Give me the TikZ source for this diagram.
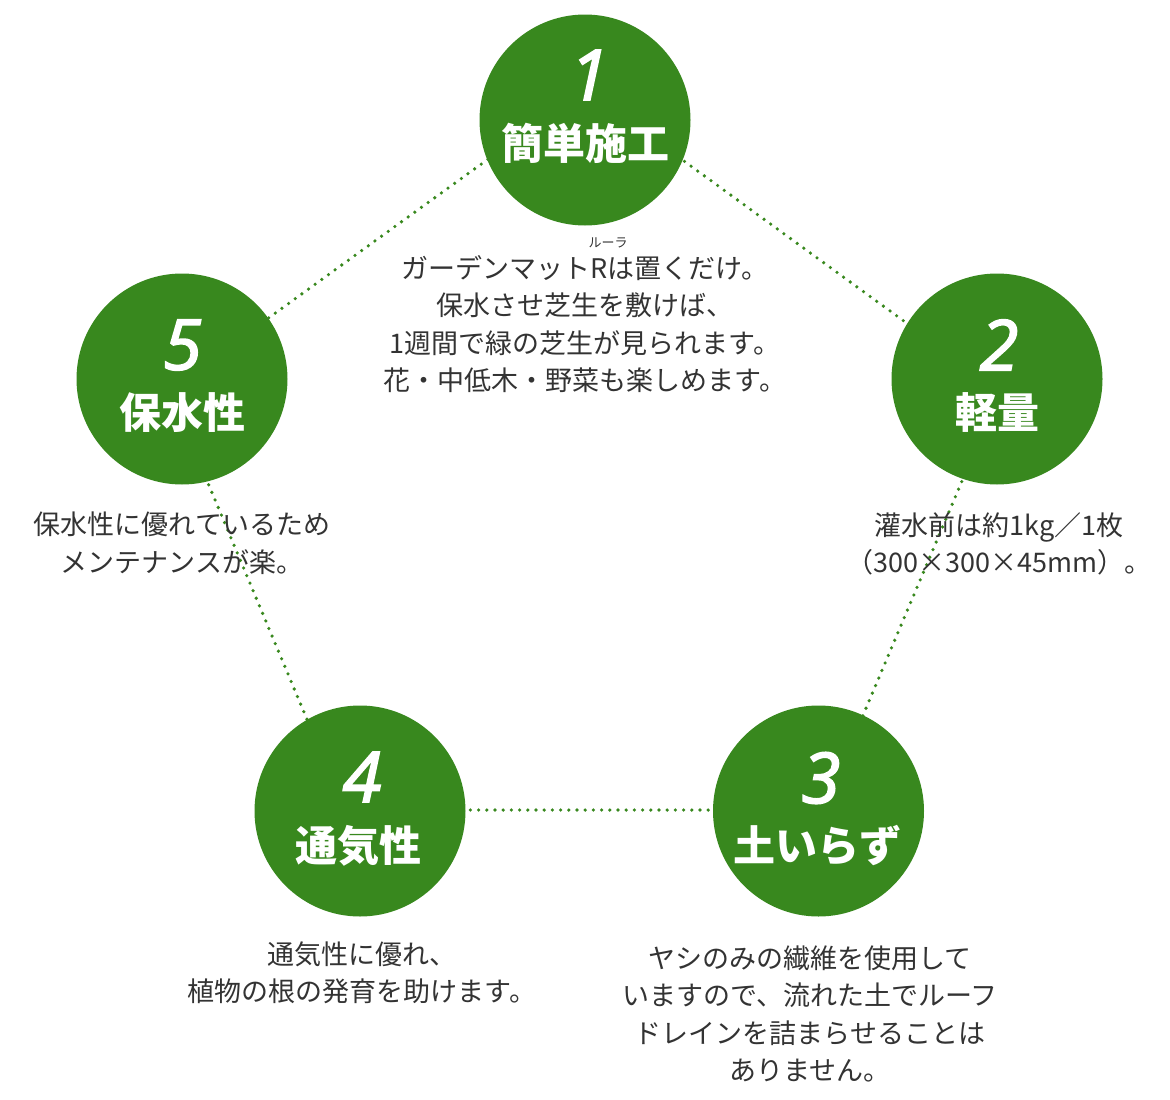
\documentclass[tikz,border=0pt]{standalone}
\usepackage{fontspec}
\newfontfamily\jp{Noto Sans CJK JP}
\newfontfamily\numfont{Open Sans}[ItalicFeatures={FakeBold=2.5}]
\definecolor{leaf}{RGB}{56,136,30}
\definecolor{ink}{RGB}{51,51,51}
\begin{document}
\begin{tikzpicture}[x=1pt,y=-1pt,
  disc/.style={circle,fill=leaf,minimum size=211pt,inner sep=0pt},
  numtxt/.style={text=white,font=\numfont\itshape\fontsize{70}{70}\selectfont,inner sep=0pt},
  ttl/.style={text=white,font=\jp\bfseries\fontsize{42}{42}\selectfont,inner sep=0pt},
  body/.style={text=ink,font=\jp\fontsize{27}{37.5}\selectfont,align=center,inner sep=0pt},
  rubytxt/.style={text=ink,font=\jp\fontsize{13}{13}\selectfont,inner sep=0pt},
  dotline/.style={draw=leaf,line width=3.6pt,line cap=round,dash pattern=on 0pt off 8.2pt}]
\useasboundingbox (0,0) rectangle (1170,1100);
% pentagon vertices for the dotted connectors
\coordinate (p1) at (585,89);
\coordinate (p2) at (1000,391);
\coordinate (p3) at (823,810);
\coordinate (p4) at (345,810);
\coordinate (p5) at (169,390);
\draw[dotline] (p1) -- (p2);
\draw[dotline] (p2) -- (p3);
\draw[dotline] (p3) -- (p4);
\draw[dotline] (p4) -- (p5);
\draw[dotline] (p5) -- (p1);
% circles
\node[disc] (c1) at (585,120) {};
\node[disc] (c2) at (997,379) {};
\node[disc] (c3) at (818.5,811) {};
\node[disc] (c4) at (360,811) {};
\node[disc] (c5) at (182,379) {};
% numbers
\node[numtxt] (n1) at (589,75) {1};
\node[numtxt] (n2) at (999,345) {2};
\node[numtxt] (n3) at (821,778) {3};
\node[numtxt] (n4) at (362,777) {4};
\node[numtxt] (n5) at (182.5,345) {5};
% titles
\node[ttl] (t1) at (585,143) {簡単施工};
\node[ttl] (t2) at (997,412) {軽量};
\node[ttl] (t3) at (817.5,846) {土いらず};
\node[ttl] (t4) at (358,846) {通気性};
\node[ttl] (t5) at (182,413) {保水性};
% descriptions
\node[body] (b1) at (585,324) {ガーデンマットRは置くだけ。\\保水させ芝生を敷けば、\\1週間で緑の芝生が見られます。\\花・中低木・野菜も楽しめます。};
\node[rubytxt] (r1) at (608,243) {ルーラ};
\node[body] (b2) at (999,544) {灌水前は約1kg／1枚\\（300×300×45mm）。};
\node[body] (b3) at (810,1014) {ヤシのみの繊維を使用して\\いますので、流れた土でルーフ\\ドレインを詰まらせることは\\ありません。};
\node[body] (b4) at (362,973) {通気性に優れ、\\植物の根の発育を助けます。};
\node[body] (b5) at (182,543) {保水性に優れているため\\メンテナンスが楽。};
\end{tikzpicture}
\end{document}
